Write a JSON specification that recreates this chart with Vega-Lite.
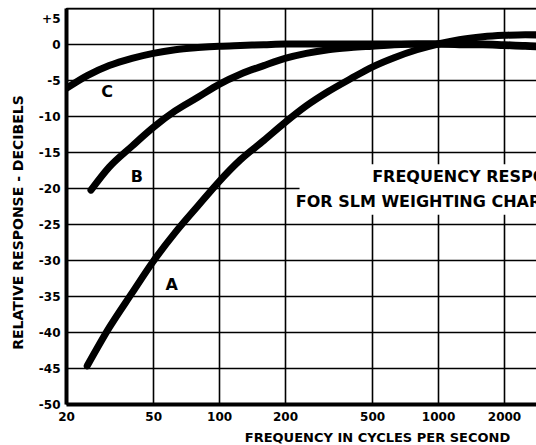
{
  "$schema": "https://vega.github.io/schema/vega-lite/v6.json",
  "width": 470,
  "height": 396,
  "autosize": {"type": "none"},
  "padding": {"left": 66, "top": 8, "right": 0, "bottom": 41},
  "background": "white",
  "config": {
    "view": {"stroke": null},
    "font": "DejaVu Sans"
  },
  "datasets": {
    "curves": [
      {"curve": "A", "f": 25, "db": -44.7},
      {"curve": "A", "f": 31.5, "db": -39.4},
      {"curve": "A", "f": 40, "db": -34.6},
      {"curve": "A", "f": 50, "db": -30.2},
      {"curve": "A", "f": 63, "db": -26.2},
      {"curve": "A", "f": 80, "db": -22.5},
      {"curve": "A", "f": 100, "db": -19.1},
      {"curve": "A", "f": 125, "db": -16.1},
      {"curve": "A", "f": 160, "db": -13.4},
      {"curve": "A", "f": 200, "db": -10.9},
      {"curve": "A", "f": 250, "db": -8.6},
      {"curve": "A", "f": 315, "db": -6.6},
      {"curve": "A", "f": 400, "db": -4.8},
      {"curve": "A", "f": 500, "db": -3.2},
      {"curve": "A", "f": 630, "db": -1.9},
      {"curve": "A", "f": 800, "db": -0.8},
      {"curve": "A", "f": 1000, "db": 0},
      {"curve": "A", "f": 1250, "db": 0.6},
      {"curve": "A", "f": 1600, "db": 1.0},
      {"curve": "A", "f": 2000, "db": 1.2},
      {"curve": "A", "f": 2500, "db": 1.3},
      {"curve": "A", "f": 3150, "db": 1.2},
      {"curve": "B", "f": 26, "db": -20.3},
      {"curve": "B", "f": 31.5, "db": -17.1},
      {"curve": "B", "f": 40, "db": -14.2},
      {"curve": "B", "f": 50, "db": -11.6},
      {"curve": "B", "f": 63, "db": -9.3},
      {"curve": "B", "f": 80, "db": -7.4},
      {"curve": "B", "f": 100, "db": -5.6},
      {"curve": "B", "f": 125, "db": -4.2},
      {"curve": "B", "f": 160, "db": -3.0},
      {"curve": "B", "f": 200, "db": -2.0},
      {"curve": "B", "f": 250, "db": -1.3},
      {"curve": "B", "f": 315, "db": -0.8},
      {"curve": "B", "f": 400, "db": -0.5},
      {"curve": "B", "f": 500, "db": -0.3},
      {"curve": "B", "f": 630, "db": -0.1},
      {"curve": "B", "f": 800, "db": 0},
      {"curve": "B", "f": 1000, "db": 0},
      {"curve": "B", "f": 1250, "db": 0},
      {"curve": "B", "f": 1600, "db": 0},
      {"curve": "B", "f": 2000, "db": -0.1},
      {"curve": "B", "f": 2500, "db": -0.2},
      {"curve": "B", "f": 3150, "db": -0.4},
      {"curve": "C", "f": 20, "db": -6.2},
      {"curve": "C", "f": 25, "db": -4.4},
      {"curve": "C", "f": 31.5, "db": -3.0},
      {"curve": "C", "f": 40, "db": -2.0},
      {"curve": "C", "f": 50, "db": -1.3},
      {"curve": "C", "f": 63, "db": -0.8},
      {"curve": "C", "f": 80, "db": -0.5},
      {"curve": "C", "f": 100, "db": -0.3},
      {"curve": "C", "f": 125, "db": -0.2},
      {"curve": "C", "f": 160, "db": -0.1},
      {"curve": "C", "f": 200, "db": 0},
      {"curve": "C", "f": 500, "db": 0},
      {"curve": "C", "f": 1000, "db": 0},
      {"curve": "C", "f": 1250, "db": -0.1},
      {"curve": "C", "f": 1600, "db": -0.1},
      {"curve": "C", "f": 2000, "db": -0.2},
      {"curve": "C", "f": 2500, "db": -0.3},
      {"curve": "C", "f": 3150, "db": -0.5}
    ],
    "curveLabels": [
      {"label": "C", "f": 30.8, "db": -6.7},
      {"label": "B", "f": 42.1, "db": -18.5},
      {"label": "A", "f": 60.8, "db": -33.5}
    ],
    "notes": [
      {"text": "FREQUENCY RESPONSE", "f": 500, "db": -18.5},
      {"text": "FOR SLM WEIGHTING CHARACTERISTICS", "f": 224, "db": -21.9}
    ],
    "noteBox": [
      {"f": 233, "f2": 3000, "db": -16.7, "db2": -23.7}
    ],
    "frame": [
      {"f": 20, "f2": 3000, "db": 5}
    ]
  },
  "encoding": {
    "x": {
      "field": "f", "type": "quantitative",
      "scale": {"type": "log", "domain": [20, 2800], "nice": false},
      "axis": {
        "values": [20, 50, 100, 200, 500, 1000, 2000],
        "labelExpr": "'' + datum.value",
        "grid": true, "gridColor": "black", "gridWidth": 1.6, "gridOpacity": 1,
        "domain": true, "domainColor": "black", "domainWidth": 4,
        "ticks": false, "labelPadding": 7, "labelFontSize": 12, "labelFontWeight": "bold", "labelColor": "black",
        "labelOverlap": false, "labelFlush": false, "labelBaseline": "top",
        "title": "FREQUENCY IN CYCLES PER SECOND",
        "titleFontSize": 13, "titleFontWeight": "bold", "titleColor": "black",
        "titleX": 311, "titleY": 37, "titleBaseline": "alphabetic", "titleAnchor": "middle", "titleAlign": "center"
      }
    },
    "y": {
      "field": "db", "type": "quantitative",
      "scale": {"domain": [-50, 5], "nice": false, "zero": false},
      "axis": {
        "values": [-50, -45, -40, -35, -30, -25, -20, -15, -10, -5, 0, 5],
        "labelExpr": "datum.value > 0 ? '+' + datum.value : '' + datum.value",
        "labelOffset": {"condition": {"test": "datum.value == 5", "value": 10}, "value": 0},
        "grid": true, "gridColor": "black", "gridWidth": 1.6, "gridOpacity": 1,
        "domain": true, "domainColor": "black", "domainWidth": 4,
        "ticks": false, "labelPadding": 6, "labelFontSize": 12, "labelFontWeight": "bold", "labelColor": "black",
        "labelOverlap": false, "labelFlush": false,
        "title": "RELATIVE RESPONSE - DECIBELS",
        "titleFontSize": 14, "titleFontWeight": "bold", "titleColor": "black",
        "titleX": -48, "titleY": 214, "titleAngle": -90, "titleBaseline": "middle", "titleAlign": "center"
      }
    }
  },
  "layer": [
    {
      "data": {"name": "noteBox"},
      "mark": {"type": "rect", "fill": "white", "clip": true},
      "encoding": {
        "x2": {"field": "f2"},
        "y2": {"field": "db2"}
      }
    },
    {
      "data": {"name": "frame"},
      "mark": {"type": "rule", "color": "black", "strokeWidth": 3, "clip": true},
      "encoding": {
        "x2": {"field": "f2"}
      }
    },
    {
      "data": {"name": "curves"},
      "mark": {"type": "line", "color": "black", "strokeWidth": 7, "strokeCap": "round", "strokeJoin": "round", "interpolate": "monotone", "clip": true},
      "encoding": {
        "detail": {"field": "curve"}
      }
    },
    {
      "data": {"name": "curveLabels"},
      "mark": {"type": "text", "fontSize": 16, "fontWeight": "bold", "color": "black", "align": "center", "baseline": "middle"},
      "encoding": {
        "text": {"field": "label"}
      }
    },
    {
      "data": {"name": "notes"},
      "mark": {"type": "text", "fontSize": 16, "fontWeight": "bold", "color": "black", "align": "left", "baseline": "middle"},
      "encoding": {
        "text": {"field": "text"}
      }
    }
  ]
}
